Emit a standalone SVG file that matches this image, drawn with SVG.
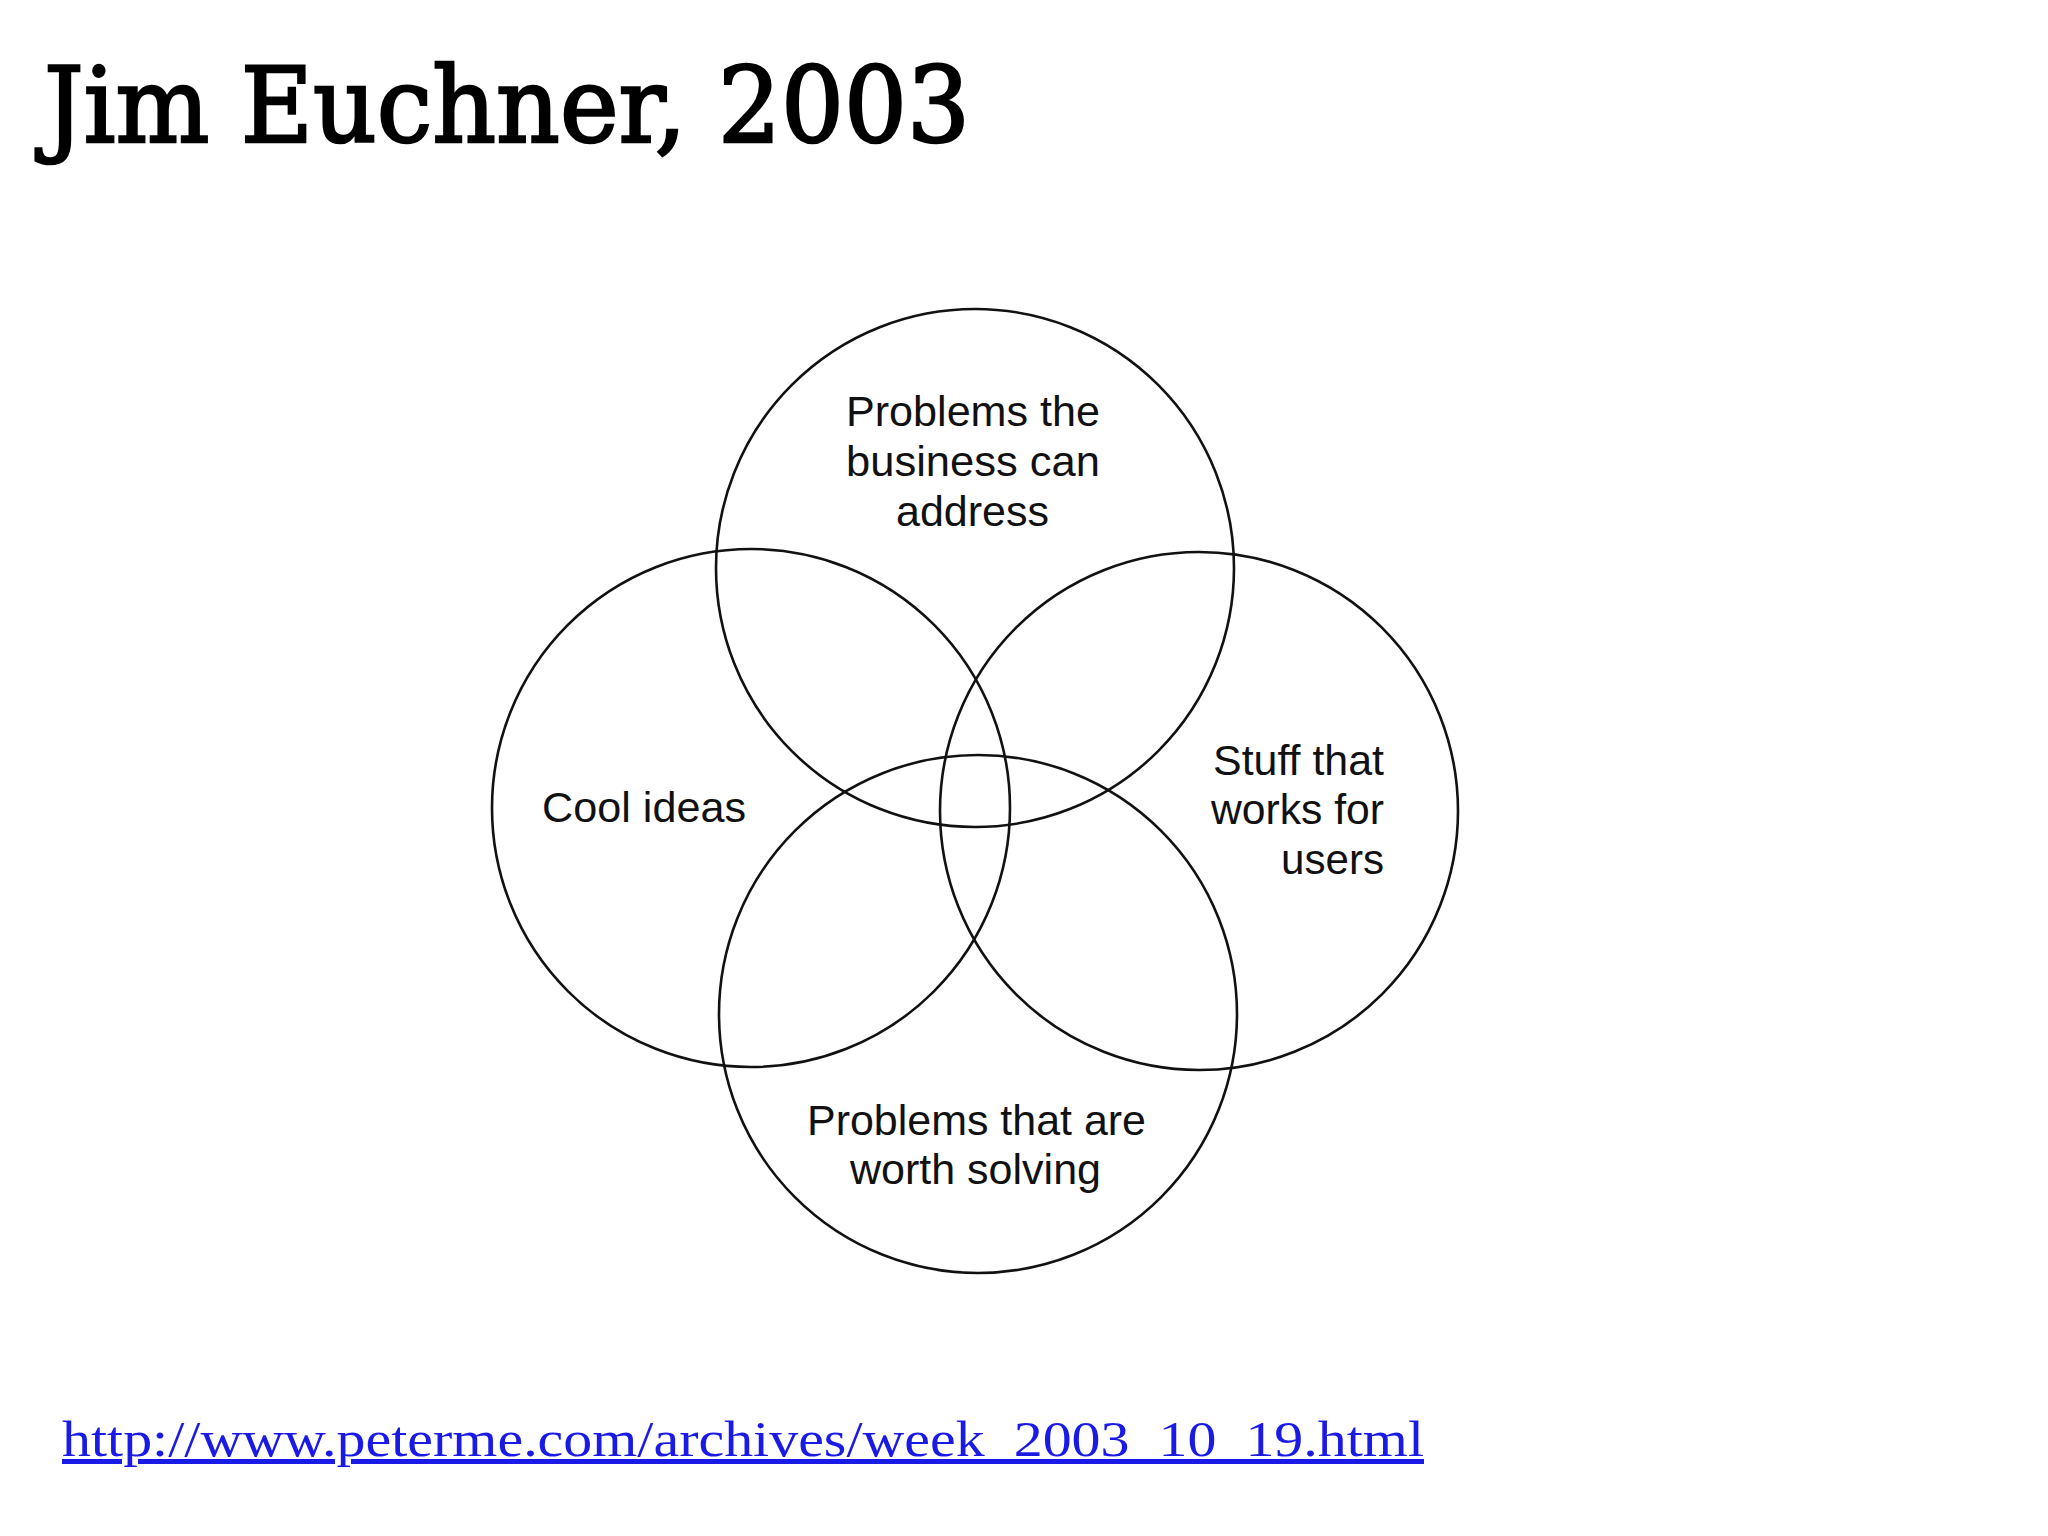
<svg xmlns="http://www.w3.org/2000/svg" width="2048" height="1536" viewBox="0 0 2048 1536">
<style>
.circle{fill:none;stroke:#111;stroke-width:2.6}
.lbl{font-family:"Liberation Sans",Arial,sans-serif;font-size:43px;fill:#111}
.title{font-family:"DejaVu Serif","Liberation Serif",serif;font-size:104px;fill:#000;stroke:#000;stroke-width:2.6}
.url{font-family:"Liberation Serif","Times New Roman",serif;font-size:50px;fill:#1a1ae6;text-decoration:underline}
</style>
<rect width="2048" height="1536" fill="#fff"/>
<text class="title" x="44" y="142" textLength="926" lengthAdjust="spacingAndGlyphs">Jim Euchner, 2003</text>
<g id="connectors"></g>
<g id="node-business">
<circle class="circle" cx="975" cy="568" r="259"/>
<text class="lbl" x="846" y="426" textLength="254" lengthAdjust="spacingAndGlyphs">Problems the</text>
<text class="lbl" x="846" y="476" textLength="254" lengthAdjust="spacingAndGlyphs">business can</text>
<text class="lbl" x="896" y="526" textLength="153" lengthAdjust="spacingAndGlyphs">address</text>
</g>
<g id="node-cool">
<circle class="circle" cx="751" cy="808" r="259"/>
<text class="lbl" x="542" y="822" textLength="204" lengthAdjust="spacingAndGlyphs">Cool ideas</text>
</g>
<g id="node-users">
<circle class="circle" cx="1199" cy="811" r="259"/>
<text class="lbl" x="1213" y="775" textLength="171" lengthAdjust="spacingAndGlyphs">Stuff that</text>
<text class="lbl" x="1211" y="824" textLength="173" lengthAdjust="spacingAndGlyphs">works for</text>
<text class="lbl" x="1281" y="874" textLength="103" lengthAdjust="spacingAndGlyphs">users</text>
</g>
<g id="node-worth">
<circle class="circle" cx="978" cy="1014" r="259"/>
<text class="lbl" x="807" y="1135" textLength="339" lengthAdjust="spacingAndGlyphs">Problems that are</text>
<text class="lbl" x="850" y="1184" textLength="251" lengthAdjust="spacingAndGlyphs">worth solving</text>
</g>
<text class="url" x="62" y="1456" textLength="1362" lengthAdjust="spacingAndGlyphs">http://www.peterme.com/archives/week_2003_10_19.html</text>
</svg>
